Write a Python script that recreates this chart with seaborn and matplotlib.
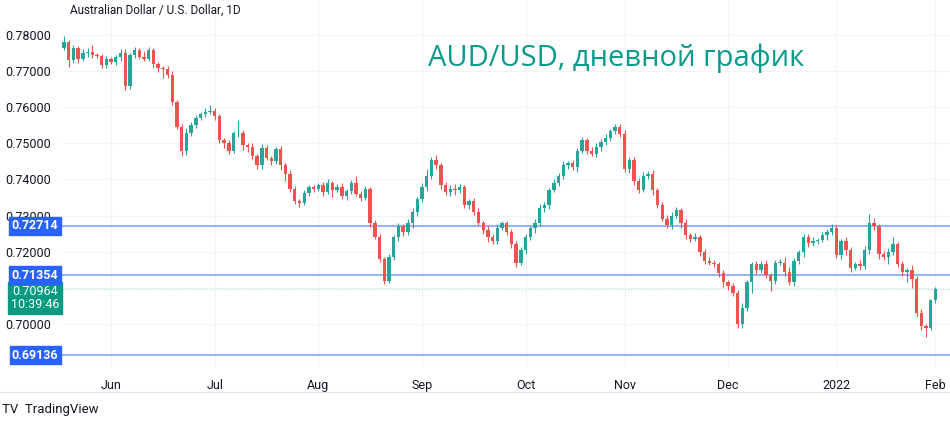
import numpy as np
import pandas as pd
import matplotlib.pyplot as plt
import seaborn as sns

# дневные свечи AUD/USD, закрытия по месяцам
close_may = [0.7780, 0.7730, 0.7765, 0.7735, 0.7750, 0.7752, 0.7745, 0.7742, 0.7718, 0.7735]
close_jun = [0.7725, 0.7738, 0.7750, 0.7660, 0.7745, 0.7758, 0.7740, 0.7735, 0.7758, 0.7720, 0.7710,
             0.7705, 0.7690, 0.7615, 0.7545, 0.7480, 0.7530, 0.7550, 0.7570, 0.7580, 0.7588, 0.7590]
close_jul = [0.7575, 0.7510, 0.7500, 0.7478, 0.7528, 0.7530, 0.7495, 0.7490, 0.7465, 0.7440, 0.7488,
             0.7460, 0.7450, 0.7485, 0.7440, 0.7415, 0.7375, 0.7340, 0.7335, 0.7362, 0.7380, 0.7375]
close_aug = [0.7385, 0.7365, 0.7390, 0.7372, 0.7380, 0.7355, 0.7368, 0.7390, 0.7360, 0.7350, 0.7375,
             0.7280, 0.7240, 0.7180, 0.7120, 0.7185, 0.7240, 0.7270, 0.7255, 0.7280, 0.7310, 0.7345]
close_sep = [0.7380, 0.7410, 0.7455, 0.7440, 0.7385, 0.7365, 0.7375, 0.7370, 0.7380, 0.7330, 0.7340,
             0.7310, 0.7280, 0.7260, 0.7240, 0.7230, 0.7265, 0.7280, 0.7255, 0.7220, 0.7170, 0.7205]
close_oct = [0.7240, 0.7265, 0.7280, 0.7320, 0.7330, 0.7370, 0.7390, 0.7410, 0.7440, 0.7445, 0.7435,
             0.7480, 0.7510, 0.7480, 0.7470, 0.7490, 0.7505, 0.7515, 0.7535, 0.7545, 0.7525]
close_nov = [0.7430, 0.7455, 0.7395, 0.7370, 0.7410, 0.7415, 0.7370, 0.7330, 0.7290, 0.7275, 0.7300,
             0.7315, 0.7280, 0.7245, 0.7235, 0.7240, 0.7200, 0.7175, 0.7170, 0.7165, 0.7140, 0.7115]
close_dec = [0.7105, 0.7085, 0.7000, 0.7045, 0.7115, 0.7165, 0.7150, 0.7165, 0.7135, 0.7120, 0.7170,
             0.7170, 0.7145, 0.7115, 0.7175, 0.7200, 0.7240, 0.7225, 0.7230, 0.7232, 0.7245, 0.7255, 0.7265]
close_jan = [0.7190, 0.7230, 0.7205, 0.7155, 0.7165, 0.7160, 0.7205, 0.7280, 0.7270, 0.7195, 0.7185,
             0.7200, 0.7220, 0.7165, 0.7145, 0.7150, 0.7125, 0.7030, 0.6995, 0.6990, 0.7065]
close_feb = [0.70964]
first_open = 0.7765

# тени свечей, в пунктах
wick_up = [18, 5, 8, 6, 10, 12, 20, 4, 6, 8,
           5, 6, 12, 10, 6, 8, 5, 15, 8, 6, 4, 5, 8, 10, 6, 8, 12, 10, 8, 6, 10, 15,
           8, 6, 5, 10, 6, 35, 8, 5, 12, 6, 10, 8, 6, 5, 8, 6, 10, 8, 6, 8, 6, 5,
           6, 8, 12, 5, 8, 10, 6, 8, 20, 8, 6, 5, 8, 10, 6, 8, 5, 10, 8, 10, 12, 6,
           10, 20, 8, 12, 6, 8, 10, 12, 8, 6, 5, 8, 12, 6, 10, 8, 12, 5, 6, 8, 10, 8,
           8, 6, 10, 12, 8, 6, 10, 8, 12, 6, 10, 8, 8, 6, 10, 12, 8, 10, 6, 8, 10,
           12, 6, 8, 10, 12, 8, 10, 6, 8, 12, 10, 8, 6, 10, 8, 12, 6, 8, 10, 8, 6, 8,
           6, 8, 10, 12, 8, 6, 10, 8, 12, 6, 8, 10, 15, 12, 8, 6, 8, 10, 12, 6, 10, 8, 12,
           8, 6, 10, 8, 6, 12, 10, 25, 12, 6, 8, 10, 20, 8, 10, 6, 12, 8, 10, 6, 5, 6]
wick_dn = [6, 18, 8, 12, 6, 10, 8, 6, 10, 8,
           6, 8, 10, 12, 10, 8, 6, 8, 6, 10, 12, 25, 8, 10, 6, 15, 12, 10, 8, 6, 8, 6,
           10, 8, 12, 8, 6, 10, 12, 15, 8, 10, 12, 6, 10, 8, 15, 20, 10, 8, 10, 6, 8, 10,
           8, 12, 6, 20, 8, 10, 12, 8, 6, 10, 8, 12, 6, 8, 10, 6, 8, 10, 12, 8, 15, 10,
           6, 12, 8, 10, 12, 8, 10, 12, 8, 10, 12, 8, 6, 10, 12, 8, 10, 6, 8, 10, 12, 8,
           10, 8, 12, 8, 10, 12, 6, 8, 10, 12, 8, 15, 8, 10, 6, 8, 12, 10, 8, 10, 6,
           8, 12, 10, 8, 6, 10, 12, 8, 6, 10, 12, 8, 15, 10, 8, 6, 12, 10, 8, 6, 10, 12,
           10, 8, 12, 10, 8, 30, 12, 10, 8, 30, 10, 8, 12, 6, 10, 8, 15, 12, 10, 8, 6, 12, 10,
           8, 10, 15, 12, 6, 10, 8, 12, 10, 15, 8, 20, 10, 8, 12, 30, 25, 10, 12, 25, 8, 8]

axis_ticks = [0.70, 0.71, 0.72, 0.73, 0.74, 0.75, 0.76, 0.77, 0.78]
month_labels = ["Jun", "Jul", "Aug", "Sep", "Oct", "Nov", "Dec", "2022", "Feb"]
levels = [0.72714, 0.71354, 0.69136]
last_price = 0.70964

closes = np.array(close_may + close_jun + close_jul + close_aug + close_sep +
                  close_oct + close_nov + close_dec + close_jan + close_feb)
opens = np.concatenate([[first_open], closes[:-1]])
highs = np.maximum(opens, closes) + np.array(wick_up) * 1e-4
lows = np.minimum(opens, closes) - np.array(wick_dn) * 1e-4
dates = pd.bdate_range("2021-05-18", periods=len(closes))
df = pd.DataFrame({"date": dates, "open": opens, "close": closes, "high": highs, "low": lows})
df["up"] = df["close"] >= df["open"]

sns.set_style("white")
plt.rcParams["font.family"] = ["Roboto", "DejaVu Sans"]

GREEN = "#26a69a"
RED = "#ef5350"
BLUE = "#2962ff"

fig = plt.figure(figsize=(9.5, 4.24), dpi=100)
ax_rect = [62 / 950, 56 / 424, 888 / 950, 368 / 424]
ax = fig.add_axes(ax_rect)
YMIN, YMAX = 0.6878, 0.7897

x = np.arange(len(df))
col = np.where(df["up"], GREEN, RED)
ax.vlines(x, df["low"], df["high"], colors=col, linewidth=0.8, zorder=3)
body = (df["close"] - df["open"]).abs().clip(lower=0.00012)
ax.bar(x, body, bottom=np.minimum(df["open"], df["close"]), width=0.72, color=col,
       edgecolor=col, linewidth=0, zorder=4)

ax.set_xlim(-0.42, 188.1)
ax.set_ylim(YMIN, YMAX)

# месячные метки
month_start = df.groupby(df["date"].dt.to_period("M")).head(1).index[1:]
ax.set_xticks(month_start)
ax.set_xticklabels(month_labels, fontsize=9, color="#131722")
ax.set_yticks(axis_ticks)
# 0.71 закрыта плашкой уровня, как на оригинале
ax.set_yticklabels(["" if abs(t - 0.71) < 1e-9 else f"{t:.5f}" for t in axis_ticks],
                   fontsize=9, color="#131722")
ax.tick_params(length=0, pad=8)
ax.grid(True, color="#f0f3fa", linewidth=0.8)
for s in ax.spines.values():
    s.set_visible(False)
ax.axhline(YMIN, color="#e0e3eb", linewidth=0.8)


def fig_y(v):
    return ax_rect[1] + (v - YMIN) / (YMAX - YMIN) * ax_rect[3]


ax.axhline(last_price, color="#b2dfdb", linewidth=0.8, linestyle=":", zorder=2)
fig.text(35 / 950, fig_y(last_price) - 9 / 424, f"{last_price:.5f}\n10:39:46",
         ha="center", va="center", fontsize=9, color="white", linespacing=1.05, zorder=5,
         bbox=dict(boxstyle="square,pad=0.2", fc="#089981", ec="#089981"))
for lv in levels:
    ax.axhline(lv, color="#7b9cf0", linewidth=1.1, zorder=2)
    fig.text(35 / 950, fig_y(lv), f"{lv:.5f}", ha="center", va="center",
             fontsize=9, fontweight="bold", color="white", zorder=6,
             bbox=dict(boxstyle="square,pad=0.18", fc=BLUE, ec=BLUE))

fig.text(70 / 950, 1 - 10 / 424, "Australian Dollar / U.S. Dollar, 1D", fontsize=8.5,
         color="#131722", va="center")
fig.text(428 / 950, 1 - 58 / 424, "AUD/USD, дневной график", fontsize=21,
         color="#0b9b8a", va="center", family=["Open Sans", "DejaVu Sans"])
fig.text(2 / 950, 1 - 409 / 424, "TV  TradingView", fontsize=9.5, color="#131722",
         va="center")
fig.add_artist(plt.Line2D([0, 1], [1 - 392 / 424] * 2, color="#e0e3eb", linewidth=0.8))

fig.savefig("out.png", dpi=100)
